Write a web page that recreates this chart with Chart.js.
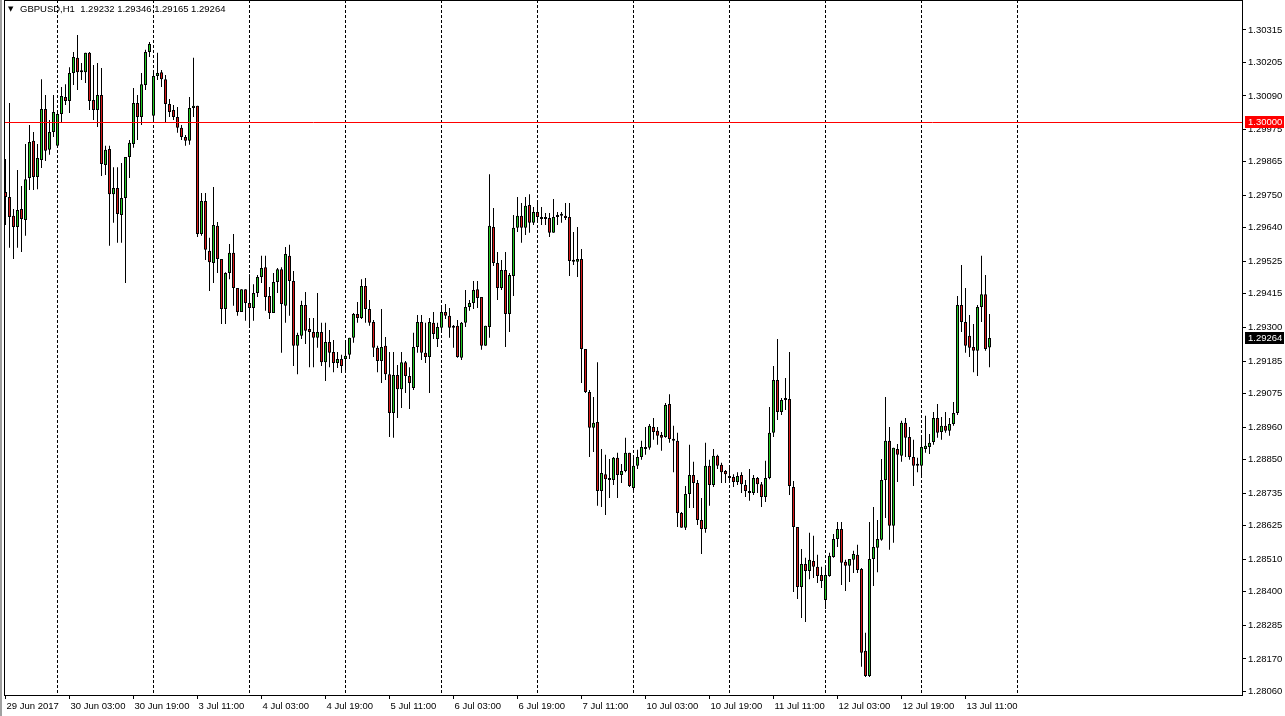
<!DOCTYPE html>
<html>
<head>
<meta charset="utf-8">
<script src="https://cdn.jsdelivr.net/npm/chart.js@4/dist/chart.umd.min.js"></script>
<style>
  html, body { margin: 0; padding: 0; background: #fff; overflow: hidden; }
</style>
</head>
<body>
<canvas id="chart" width="1285" height="716"></canvas>
<script>
// GBPUSD H1, 29 Jun 2017 11:00 .. 13 Jul 2017 17:00 (one bar per hour, weekend skipped)
var symbol = "GBPUSD,H1";

var open = [
  1.29762,1.29745,1.29681,1.29643,1.29704,1.29667,1.29810,1.29937,1.29813,1.29871,
  1.30045,1.29906,1.29967,1.29920,1.30028,1.30086,1.30073,1.30168,1.30220,1.30171,
  1.30171,1.30237,1.30076,1.30042,1.30093,1.29854,1.29909,1.29755,1.29776,1.29684,
  1.29742,1.29882,1.29926,1.30066,1.30018,1.30127,1.30240,1.30022,1.30158,1.30171,
  1.30147,1.30062,1.30042,1.30018,1.29981,1.29950,1.29937,1.30049,1.30056,1.29619,
  1.29732,1.29562,1.29520,1.29647,1.29534,1.29363,1.29486,1.29555,1.29435,1.29353,
  1.29431,1.29384,1.29367,1.29418,1.29472,1.29506,1.29408,1.29350,1.29455,1.29499,
  1.29374,1.29545,1.29459,1.29238,1.29272,1.29377,1.29295,1.29285,1.29265,1.29285,
  1.29182,1.29251,1.29217,1.29179,1.29193,1.29193,1.29207,1.29265,1.29346,1.29333,
  1.29442,1.29363,1.29319,1.29231,1.29186,1.29238,1.29141,1.29009,1.29138,1.29090,
  1.29182,1.29135,1.29094,1.29234,1.29319,1.29214,1.29200,1.29316,1.29261,1.29299,
  1.29353,1.29340,1.29306,1.29306,1.29197,1.29316,1.29370,1.29384,1.29431,1.29404,
  1.29238,1.29302,1.29643,1.29520,1.29435,1.29496,1.29346,1.29476,1.29640,1.29681,
  1.29640,1.29718,1.29657,1.29694,1.29677,1.29670,1.29674,1.29623,1.29677,1.29684,
  1.29681,1.29677,1.29527,1.29524,1.29534,1.29227,1.29080,1.28958,1.28978,1.28743,
  1.28800,1.28787,1.28780,1.28856,1.28797,1.28811,1.28873,1.28753,1.28829,1.28859,
  1.28893,1.28890,1.28961,1.28948,1.28934,1.28927,1.29039,1.28920,1.28914,1.28668,
  1.28617,1.28732,1.28797,1.28770,1.28644,1.28613,1.28829,1.28763,1.28863,1.28832,
  1.28811,1.28790,1.28790,1.28773,1.28797,1.28763,1.28743,1.28736,1.28787,1.28766,
  1.28722,1.28787,1.28941,1.29121,1.29012,1.29053,1.29056,1.28756,1.28620,1.28415,
  1.28494,1.28470,1.28504,1.28484,1.28456,1.28371,1.28453,1.28518,1.28579,1.28613,
  1.28501,1.28488,1.28508,1.28525,1.28477,1.28198,1.28112,1.28511,1.28549,1.28576,
  1.28780,1.28914,1.28624,1.28886,1.28863,1.28975,1.28927,1.28859,1.28829,1.28829,
  1.28886,1.28893,1.28910,1.28992,1.28944,1.28965,1.28948,1.28971,1.29009,1.29377,
  1.29319,1.29272,1.29234,1.29221,1.29370,1.29414,1.29232
];
var high = [
  1.29875,1.30066,1.29704,1.29837,1.29783,1.29926,1.29991,1.29967,1.29926,1.30147,
  1.30093,1.30008,1.30093,1.30042,1.30120,1.30130,1.30188,1.30240,1.30298,1.30202,
  1.30237,1.30240,1.30195,1.30202,1.30185,1.29920,1.29920,1.29847,1.29847,1.29861,
  1.29882,1.29940,1.30117,1.30093,1.30168,1.30247,1.30274,1.30175,1.30237,1.30178,
  1.30161,1.30079,1.30059,1.30052,1.29991,1.29957,1.30086,1.30220,1.30056,1.29759,
  1.29759,1.29606,1.29779,1.29660,1.29534,1.29489,1.29585,1.29619,1.29435,1.29431,
  1.29431,1.29482,1.29448,1.29479,1.29545,1.29545,1.29438,1.29486,1.29503,1.29506,
  1.29575,1.29582,1.29493,1.29282,1.29391,1.29421,1.29333,1.29333,1.29418,1.29316,
  1.29316,1.29292,1.29258,1.29217,1.29207,1.29251,1.29265,1.29350,1.29387,1.29465,
  1.29469,1.29394,1.29326,1.29238,1.29363,1.29268,1.29217,1.29217,1.29172,1.29217,
  1.29186,1.29165,1.29282,1.29343,1.29343,1.29316,1.29333,1.29353,1.29316,1.29370,
  1.29380,1.29367,1.29309,1.29326,1.29319,1.29428,1.29394,1.29459,1.29459,1.29404,
  1.29306,1.29823,1.29708,1.29558,1.29530,1.29558,1.29486,1.29684,1.29745,1.29725,
  1.29745,1.29755,1.29711,1.29725,1.29711,1.29691,1.29691,1.29738,1.29694,1.29694,
  1.29725,1.29725,1.29626,1.29643,1.29568,1.29227,1.29087,1.29063,1.29182,1.28886,
  1.28866,1.28852,1.28859,1.28873,1.28835,1.28924,1.28873,1.28859,1.28883,1.28914,
  1.28961,1.28971,1.28992,1.28961,1.28944,1.29043,1.29073,1.28965,1.28941,1.28671,
  1.28760,1.28900,1.28842,1.28780,1.28719,1.28907,1.28849,1.28886,1.28866,1.28839,
  1.28814,1.28822,1.28800,1.28807,1.28807,1.28780,1.28818,1.28797,1.28790,1.28773,
  1.28846,1.29029,1.29169,1.29261,1.29060,1.29128,1.29217,1.28777,1.28620,1.28545,
  1.28515,1.28600,1.28590,1.28525,1.28484,1.28480,1.28532,1.28596,1.28637,1.28637,
  1.28508,1.28511,1.28539,1.28559,1.28480,1.28259,1.28637,1.28688,1.28644,1.28852,
  1.29063,1.28961,1.28890,1.28903,1.28982,1.28992,1.28961,1.28917,1.28856,1.28924,
  1.28999,1.28937,1.29012,1.29039,1.28995,1.29012,1.28992,1.29046,1.29408,1.29513,
  1.29435,1.29343,1.29312,1.29377,1.29545,1.29479,1.29346
];
var low = [
  1.29650,1.29572,1.29534,1.29572,1.29558,1.29613,1.29769,1.29769,1.29772,1.29844,
  1.29868,1.29889,1.29950,1.29916,1.29998,1.30059,1.30032,1.30127,1.30110,1.30144,
  1.30134,1.30042,1.30008,1.29984,1.29817,1.29820,1.29579,1.29657,1.29589,1.29589,
  1.29452,1.29810,1.29913,1.29940,1.29991,1.30110,1.30223,1.30001,1.30144,1.30120,
  1.29998,1.30018,1.30008,1.29964,1.29940,1.29920,1.29923,1.30018,1.29609,1.29613,
  1.29530,1.29425,1.29452,1.29486,1.29312,1.29312,1.29465,1.29374,1.29340,1.29353,
  1.29323,1.29302,1.29323,1.29404,1.29452,1.29357,1.29329,1.29350,1.29418,1.29214,
  1.29316,1.29340,1.29169,1.29141,1.29261,1.29244,1.29165,1.29165,1.29231,1.29169,
  1.29118,1.29165,1.29148,1.29162,1.29145,1.29152,1.29193,1.29248,1.29316,1.29329,
  1.29316,1.29306,1.29200,1.29148,1.29111,1.29121,1.28927,1.28924,1.28992,1.29026,
  1.29077,1.29022,1.29087,1.29214,1.29189,1.29179,1.29077,1.29261,1.29234,1.29292,
  1.29329,1.29265,1.29231,1.29197,1.29189,1.29302,1.29357,1.29363,1.29367,1.29224,
  1.29238,1.29265,1.29510,1.29394,1.29428,1.29234,1.29285,1.29408,1.29626,1.29589,
  1.29616,1.29623,1.29650,1.29660,1.29650,1.29650,1.29609,1.29623,1.29650,1.29657,
  1.29667,1.29476,1.29513,1.29472,1.29111,1.29077,1.28859,1.28876,1.28692,1.28688,
  1.28661,1.28719,1.28763,1.28719,1.28770,1.28807,1.28756,1.28743,1.28818,1.28849,
  1.28866,1.28883,1.28917,1.28900,1.28880,1.28924,1.28907,1.28807,1.28620,1.28617,
  1.28610,1.28685,1.28685,1.28627,1.28528,1.28600,1.28692,1.28756,1.28818,1.28770,
  1.28770,1.28770,1.28756,1.28763,1.28736,1.28722,1.28709,1.28729,1.28736,1.28688,
  1.28705,1.28783,1.28927,1.28985,1.29002,1.29019,1.28729,1.28398,1.28374,1.28310,
  1.28296,1.28442,1.28446,1.28429,1.28412,1.28340,1.28450,1.28515,1.28552,1.28422,
  1.28402,1.28432,1.28463,1.28463,1.28143,1.28108,1.28108,1.28419,1.28466,1.28573,
  1.28651,1.28542,1.28566,1.28773,1.28842,1.28859,1.28849,1.28760,1.28807,1.28794,
  1.28873,1.28869,1.28900,1.28924,1.28917,1.28941,1.28931,1.28965,1.29002,1.29285,
  1.29214,1.29200,1.29148,1.29135,1.29319,1.29221,1.29165
];
var close = [
  1.29745,1.29677,1.29643,1.29701,1.29670,1.29806,1.29933,1.29813,1.29878,1.30045,
  1.29903,1.29967,1.30035,1.30028,1.30090,1.30073,1.30168,1.30223,1.30171,1.30171,
  1.30237,1.30073,1.30042,1.30093,1.29858,1.29906,1.29755,1.29776,1.29687,1.29742,
  1.29882,1.29930,1.30066,1.30018,1.30130,1.30240,1.30267,1.30158,1.30168,1.30147,
  1.30062,1.30035,1.30018,1.29981,1.29950,1.29937,1.30049,1.30056,1.29619,1.29732,
  1.29565,1.29523,1.29650,1.29534,1.29363,1.29486,1.29555,1.29435,1.29353,1.29431,
  1.29384,1.29367,1.29418,1.29472,1.29503,1.29404,1.29350,1.29455,1.29499,1.29380,
  1.29551,1.29459,1.29238,1.29275,1.29377,1.29289,1.29285,1.29265,1.29285,1.29182,
  1.29251,1.29214,1.29179,1.29193,1.29169,1.29204,1.29265,1.29346,1.29333,1.29442,
  1.29363,1.29316,1.29231,1.29186,1.29234,1.29141,1.29009,1.29138,1.29090,1.29182,
  1.29135,1.29111,1.29234,1.29319,1.29214,1.29200,1.29319,1.29278,1.29302,1.29353,
  1.29340,1.29299,1.29299,1.29200,1.29316,1.29370,1.29384,1.29428,1.29401,1.29238,
  1.29306,1.29647,1.29520,1.29435,1.29496,1.29346,1.29479,1.29640,1.29681,1.29640,
  1.29715,1.29657,1.29694,1.29677,1.29670,1.29674,1.29623,1.29677,1.29684,1.29681,
  1.29674,1.29527,1.29524,1.29534,1.29227,1.29080,1.28958,1.28975,1.28743,1.28804,
  1.28783,1.28780,1.28856,1.28797,1.28811,1.28873,1.28760,1.28829,1.28859,1.28893,
  1.28886,1.28965,1.28944,1.28931,1.28924,1.29036,1.28920,1.28914,1.28668,1.28617,
  1.28732,1.28797,1.28770,1.28644,1.28613,1.28829,1.28763,1.28863,1.28829,1.28807,
  1.28800,1.28787,1.28773,1.28794,1.28766,1.28743,1.28736,1.28787,1.28766,1.28722,
  1.28787,1.28941,1.29121,1.29012,1.29053,1.29053,1.28760,1.28620,1.28415,1.28494,
  1.28470,1.28508,1.28484,1.28453,1.28436,1.28456,1.28522,1.28579,1.28613,1.28498,
  1.28488,1.28511,1.28528,1.28473,1.28191,1.28112,1.28511,1.28552,1.28579,1.28780,
  1.28914,1.28624,1.28890,1.28866,1.28975,1.28924,1.28859,1.28829,1.28829,1.28893,
  1.28897,1.28907,1.28992,1.28941,1.28965,1.28948,1.28971,1.29009,1.29377,1.29319,
  1.29238,1.29231,1.29221,1.29370,1.29414,1.29227,1.29264
];

// axis labels
var priceTicks = [1.30315,1.30205,1.30090,1.29975,1.29865,1.29750,1.29640,1.29525,1.29415,1.29300,
  1.29185,1.29075,1.28960,1.28850,1.28735,1.28625,1.28510,1.28400,1.28285,1.28170,1.28060];
var timeLabels = ["29 Jun 2017","30 Jun 03:00","30 Jun 19:00","3 Jul 11:00","4 Jul 03:00","4 Jul 19:00",
  "5 Jul 11:00","6 Jul 03:00","6 Jul 19:00","7 Jul 11:00","10 Jul 03:00","10 Jul 19:00",
  "11 Jul 11:00","12 Jul 03:00","12 Jul 19:00","13 Jul 11:00"];
var timeLabelBars = [0,16,32,48,64,80,96,112,128,144,160,176,192,208,224,240];
// first bar of each day (00:00), incl. 14 Jul in the empty shift area
var daySeparatorBars = [13,37,61,85,109,133,157,181,205,229,253];
var alertLevel = 1.30000;

var upColor = 'rgb(34,200,34)';
var downColor = 'rgb(214,24,24)';
var FONT = "'Liberation Sans', Arial, sans-serif";
Chart.defaults.font.family = FONT;

var last = close.length - 1;

var bodies = open.map(function (o, i) { return { x: i, y: [o, close[i]] }; });
var wicks = open.map(function (o, i) { return { x: i, y: [low[i], high[i]] }; });

var overlay = {
  id: 'mtOverlay',
  beforeDatasetsDraw: function (chart) {
    var ctx = chart.ctx, a = chart.chartArea, xs = chart.scales.x;
    ctx.save();
    ctx.strokeStyle = '#000';
    ctx.lineWidth = 1;
    ctx.setLineDash([3, 2]);
    daySeparatorBars.forEach(function (b) {
      var px = Math.floor(xs.getPixelForValue(b)) + 0.5;
      ctx.beginPath();
      ctx.moveTo(px, a.top);
      ctx.lineTo(px, a.bottom);
      ctx.stroke();
    });
    ctx.restore();
  },
  afterDatasetsDraw: function (chart) {
    var ctx = chart.ctx, a = chart.chartArea, ys = chart.scales.y;
    var ly = Math.round(ys.getPixelForValue(alertLevel)) + 0.5;
    ctx.save();
    ctx.strokeStyle = '#ff0000';
    ctx.lineWidth = 1;
    ctx.beginPath();
    ctx.moveTo(a.left, ly);
    ctx.lineTo(a.right, ly);
    ctx.stroke();
    ctx.restore();
  },
  afterDraw: function (chart) {
    var ctx = chart.ctx, a = chart.chartArea, ys = chart.scales.y;
    ctx.save();
    // window edge
    ctx.fillStyle = '#a0a0a0';
    ctx.fillRect(0, 0, 2, chart.height);
    // frame
    ctx.strokeStyle = '#000';
    ctx.lineWidth = 1;
    ctx.strokeRect(a.left + 0.5, a.top + 0.5, a.right - a.left, a.bottom - a.top);

    // price tags on the scale
    function tag(value, bg) {
      var cy = Math.round(ys.getPixelForValue(value));
      ctx.fillStyle = bg;
      ctx.fillRect(a.right + 3, cy - 6, 39, 12);
      ctx.fillStyle = '#fff';
      ctx.font = '9.5px ' + FONT;
      ctx.textAlign = 'left';
      ctx.textBaseline = 'middle';
      ctx.fillText(value.toFixed(5), a.right + 6, cy + 0.5);
    }
    tag(alertLevel, '#ff0000');
    tag(close[last], '#000');

    // header
    ctx.fillStyle = '#000';
    ctx.textBaseline = 'middle';
    ctx.textAlign = 'left';
    ctx.font = "7px 'DejaVu Sans'";
    ctx.fillText('\u25BC', 8, 9);
    ctx.font = '9.5px ' + FONT;
    var ohlc = [open[last], high[last], low[last], close[last]].map(function (v) { return v.toFixed(5); }).join(' ');
    ctx.fillText(symbol + '  ' + ohlc, 20, 9);
    ctx.restore();
  }
};

new Chart(document.getElementById('chart'), {
  type: 'bar',
  data: {
    datasets: [{
      label: 'body',
      data: bodies,
      grouped: false,
      barPercentage: 0.75,
      categoryPercentage: 1,
      backgroundColor: bodies.map(function (d) { return d.y[1] >= d.y[0] ? upColor : downColor; }),
      borderColor: '#000',
      borderWidth: 1,
      borderSkipped: false,
      inflateAmount: 0,
      minBarLength: 2
    }, {
      label: 'wick',
      data: wicks,
      grouped: false,
      barPercentage: 0.25,
      categoryPercentage: 1,
      backgroundColor: '#000',
      borderWidth: 0,
      inflateAmount: 0,
      minBarLength: 1
    }]
  },
  options: {
    responsive: false,
    animation: false,
    events: [],
    layout: { padding: { left: 4, top: 0, right: 0, bottom: 0 } },
    plugins: { legend: { display: false }, tooltip: { enabled: false }, title: { display: false } },
    scales: {
      x: {
        type: 'linear',
        offset: false,
        min: -0.375,
        max: 309.125,
        grid: { drawOnChartArea: false, offset: false, color: '#000', tickLength: 4 },
        border: { color: '#000' },
        ticks: {
          autoSkip: false,
          maxRotation: 0,
          minRotation: 0,
          align: 'start',
          labelOffset: 1,
          padding: 2,
          color: '#000',
          font: { size: 9.5 },
          callback: function (v) {
            var k = timeLabelBars.indexOf(v);
            return k >= 0 ? timeLabels[k] : '';
          }
        },
        afterBuildTicks: function (s) {
          s.ticks = timeLabelBars.map(function (v) { return { value: v }; });
        },
        afterFit: function (s) {
          s.height = 21;
          s.paddingLeft = 0;
          s.paddingRight = 0;
        }
      },
      y: {
        position: 'right',
        min: 1.28047,
        max: 1.30417,
        grid: { drawOnChartArea: false, color: '#000', tickLength: 4 },
        border: { color: '#000' },
        ticks: {
          autoSkip: false,
          padding: 2,
          color: '#000',
          font: { size: 9.5 },
          callback: function (v) { return Number(v).toFixed(5); }
        },
        afterBuildTicks: function (s) {
          s.ticks = priceTicks.map(function (v) { return { value: v }; });
        },
        afterFit: function (s) {
          s.width = 43;
          s.paddingTop = 0;
          s.paddingBottom = 0;
        }
      }
    }
  },
  plugins: [overlay]
});
</script>
</body>
</html>
